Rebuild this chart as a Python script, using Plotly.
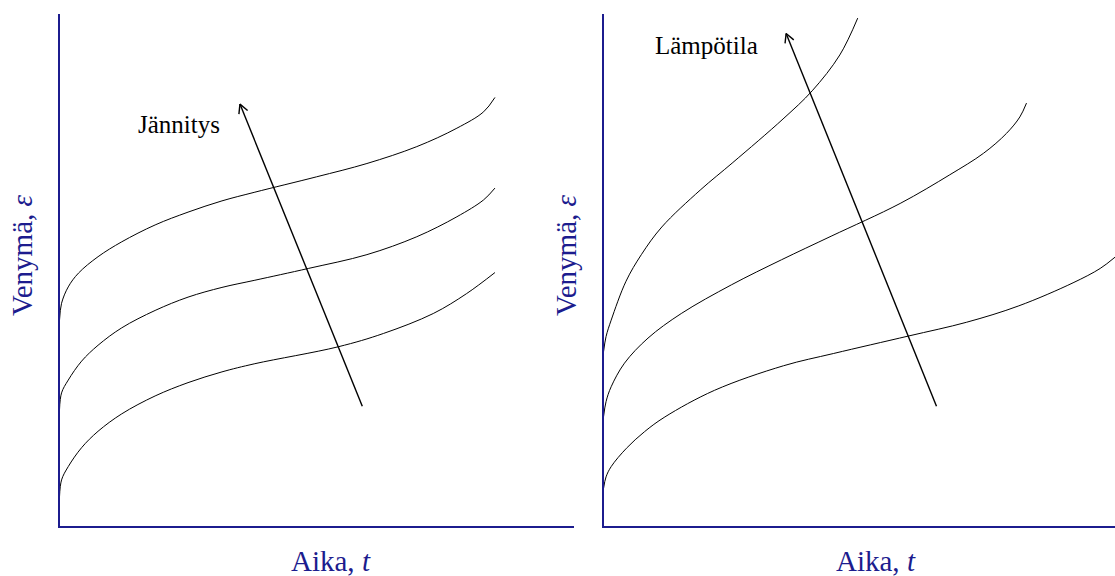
import math
import plotly.graph_objects as go

# ---- creep curves: strain vs. time, three stress levels (left panel) ----
t_stress_high = [0, 0.4, 1.7, 3.7, 7.5, 12.1, 18.6, 25.0, 31.6, 38.0, 50.0, 59.8, 69.5, 77.3, 82.5, 84.7]
e_stress_high = [40.2, 43.5, 46.7, 49.4, 52.6, 55.5, 58.8, 61.3, 63.5, 65.2, 68.2, 70.8, 74.1, 77.7, 80.9, 83.7]

t_stress_mid = [0, 0.4, 1.7, 4.3, 7.5, 12.1, 18.6, 25.0, 31.6, 38.0, 48.4, 59.8, 69.5, 77.3, 82.5, 84.7]
e_stress_mid = [22.7, 26.0, 28.5, 32.2, 35.3, 38.7, 42.1, 44.7, 46.6, 48.0, 50.3, 53.0, 56.5, 60.4, 63.7, 66.0]

t_stress_low = [0, 0.4, 1.7, 4.3, 7.5, 12.1, 18.6, 25.0, 31.6, 38.0, 54.2, 63.0, 72.7, 79.2, 84.7]
e_stress_low = [5.7, 9.0, 11.6, 15.3, 18.5, 21.9, 25.4, 28.0, 30.1, 31.7, 35.0, 37.6, 41.5, 45.4, 49.5]

# ---- creep curves at three temperatures (right panel) ----
t_temp_high = [0, 0.5, 1.5, 4.4, 7.4, 11.4, 18.9, 25.3, 35.1, 40.8, 46.2, 49.7]
e_temp_high = [34.0, 37.0, 40.2, 47.8, 53.0, 58.4, 65.6, 71.0, 79.5, 85.0, 92.0, 99.2]

t_temp_mid = [0, 0.5, 1.5, 4.1, 8.7, 15.2, 25.0, 34.8, 44.5, 58.0, 67.7, 74.3, 78.8, 81.4, 82.7]
e_temp_mid = [21.3, 24.3, 27.2, 31.8, 36.7, 41.5, 47.1, 52.0, 56.6, 63.0, 68.6, 72.8, 76.7, 79.9, 82.6]

t_temp_low = [0, 0.5, 1.5, 4.5, 8.0, 12.0, 21.7, 35.2, 45.0, 59.6, 71.0, 81.2, 91.8, 97.1, 100]
e_temp_low = [7.3, 9.6, 11.6, 15.2, 18.4, 21.3, 26.5, 31.3, 33.7, 37.1, 39.8, 43.0, 47.5, 50.3, 52.5]

# direction arrows (tail -> tip) and their labels
arrow_stress = [(58.9, 23.4), (35.1, 82.4)]
arrow_temp = [(65.1, 23.4), (35.7, 96.2)]
label_stress = "Jännitys"
label_temp = "Lämpötila"
y_title = "Venymä, <i>ε</i>"
x_title = "Aika, <i>t</i>"

W, H = 1115, 576
NAVY = "#1c1c8e"
FONT = "Liberation Serif"

# plot-area geometry in pixels
LEFT_X0, LEFT_X1 = 59.5, 573.6
RIGHT_X0, RIGHT_X1 = 603.5, 1115.0
Y_TOP, Y_BOT = 14.0, 526.0
XR = [0, 100]
YR = [0, 100]

fig = go.Figure()

curve_style = dict(color="black", width=1)
for tx, ey in [(t_stress_high, e_stress_high), (t_stress_mid, e_stress_mid), (t_stress_low, e_stress_low)]:
    fig.add_trace(go.Scatter(x=tx, y=ey, mode="lines", line=dict(shape="spline", smoothing=1.0, **curve_style),
                             xaxis="x", yaxis="y", hoverinfo="skip"))
for tx, ey in [(t_temp_high, e_temp_high), (t_temp_mid, e_temp_mid), (t_temp_low, e_temp_low)]:
    fig.add_trace(go.Scatter(x=tx, y=ey, mode="lines", line=dict(shape="spline", smoothing=1.0, **curve_style),
                             xaxis="x2", yaxis="y2", hoverinfo="skip"))


def add_arrow(arrow, xref, yref, x0px, x1px):
    """Shaft plus an open V head, head legs sized in screen pixels."""
    (xa, ya), (xb, yb) = arrow
    sx = (x1px - x0px) / (XR[1] - XR[0])
    sy = (Y_BOT - Y_TOP) / (YR[1] - YR[0])
    # direction in pixel space (screen y grows downward)
    dx, dy = (xb - xa) * sx, -(yb - ya) * sy
    n = math.hypot(dx, dy)
    ux, uy = dx / n, dy / n
    leg, ang = 10.0, math.radians(28)
    hx, hy = [], []
    for s in (1, -1):
        c, si = math.cos(s * ang), math.sin(s * ang)
        rx, ry = ux * c - uy * si, ux * si + uy * c
        hx += [xb - leg * rx / sx, xb, None]
        hy += [yb + leg * ry / sy, yb, None]
    fig.add_trace(go.Scatter(x=[xa, xb], y=[ya, yb], mode="lines", line=dict(color="black", width=1.4),
                             xaxis=xref, yaxis=yref, hoverinfo="skip"))
    fig.add_trace(go.Scatter(x=hx, y=hy, mode="lines", line=dict(color="black", width=1.4),
                             xaxis=xref, yaxis=yref, hoverinfo="skip"))


add_arrow(arrow_stress, "x", "y", LEFT_X0, LEFT_X1)
add_arrow(arrow_temp, "x2", "y2", RIGHT_X0, RIGHT_X1)

axis_common = dict(showline=True, linecolor=NAVY, linewidth=2, showgrid=False, zeroline=False,
                   showticklabels=False, ticks="", fixedrange=True)
ydom = [1 - Y_BOT / H, 1 - Y_TOP / H]
fig.update_layout(
    width=W, height=H,
    margin=dict(l=0, r=0, t=0, b=0),
    paper_bgcolor="white", plot_bgcolor="white",
    showlegend=False,
    xaxis=dict(domain=[LEFT_X0 / W, LEFT_X1 / W], range=XR, anchor="y", **axis_common),
    yaxis=dict(domain=ydom, range=YR, anchor="x", **axis_common),
    xaxis2=dict(domain=[RIGHT_X0 / W, RIGHT_X1 / W], range=XR, anchor="y2", **axis_common),
    yaxis2=dict(domain=ydom, range=YR, anchor="x2", **axis_common),
)


def px_note(text, xpx, ypx, size, color, angle=0, xanchor="center", yanchor="middle"):
    fig.add_annotation(text=text, x=xpx / W, y=1 - ypx / H, xref="paper", yref="paper",
                       showarrow=False, textangle=angle, xanchor=xanchor, yanchor=yanchor,
                       font=dict(family=FONT, size=size, color=color))


# axis titles
px_note(y_title, 22, 255, 29, NAVY, angle=-90)
px_note(y_title, 566, 255, 29, NAVY, angle=-90)
px_note(x_title, 331, 561, 29, NAVY)
px_note(x_title, 876, 561, 29, NAVY)

# arrow labels
px_note(label_stress, 179, 125, 25, "black")
px_note(label_temp, 706, 45, 25, "black")

fig.write_html("out.html")
